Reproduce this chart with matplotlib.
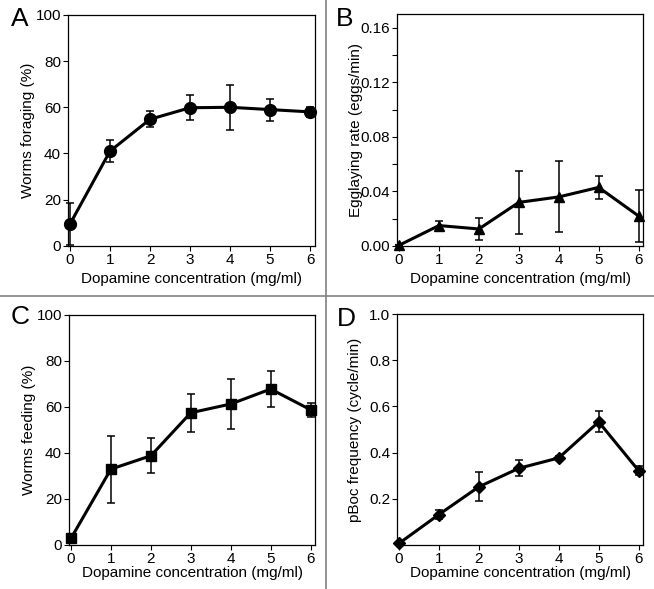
import matplotlib
matplotlib.use("Agg")
import matplotlib.pyplot as plt
from matplotlib.lines import Line2D
from matplotlib.ticker import MultipleLocator

plt.rcParams['font.family'] = ['Liberation Sans', 'DejaVu Sans']

dose = [0, 1, 2, 3, 4, 5, 6]

foraging = [9.4, 41.0, 54.8, 59.8, 60.0, 59.0, 58.0]
foraging_err = [9.3, 4.8, 3.4, 5.4, 9.8, 4.8, 2.3]

egglaying = [0.0005, 0.015, 0.0125, 0.032, 0.036, 0.043, 0.022]
egglaying_err = [0.0, 0.0033, 0.008, 0.023, 0.026, 0.0083, 0.019]

feeding = [2.9, 33.0, 38.8, 57.5, 61.3, 67.8, 58.8]
feeding_err = [0.0, 14.6, 7.7, 8.2, 11.0, 7.7, 3.0]

pboc = [0.007, 0.132, 0.252, 0.332, 0.377, 0.533, 0.322]
pboc_err = [0.0, 0.02, 0.062, 0.035, 0.01, 0.045, 0.018]

W, H = 654, 589
fig = plt.figure(figsize=(W / 100, H / 100), dpi=100)


def rect(l, r, t, b):
    return [l / W, 1 - b / H, (r - l) / W, (b - t) / H]


def panel(box, y, err, marker, ms, ylabel, ylim, yticks, ylabels, xpad, ypad):
    ax = fig.add_axes(rect(*box))
    # lower error bars stop at the axis
    low = [min(e, v) for e, v in zip(err, y)]
    ax.errorbar(dose, y, yerr=[low, err], color='black', lw=2.2,
                marker=marker, ms=ms, elinewidth=1.1, capsize=3.2,
                capthick=1.1, zorder=3, clip_on=False)
    ax.set_xlim(-0.05, 6.11)
    ax.set_ylim(*ylim)
    ax.set_xticks(dose)
    ax.set_yticks(yticks)
    ax.set_yticklabels(ylabels)
    ax.tick_params(direction='out', length=3.5, width=0.8, labelsize=11,
                   pad=1.5)
    for s in ax.spines.values():
        s.set_linewidth(0.9)
    ax.set_ylabel(ylabel, fontsize=11, labelpad=ypad)
    ax.set_xlabel('Dopamine concentration (mg/ml)', fontsize=11,
                  labelpad=xpad)
    return ax


panel((68, 314.5, 15, 245.7), foraging, foraging_err, 'o', 8.5,
      'Worms foraging (%)', (0, 100), [0, 20, 40, 60, 80, 100],
      ['0', '20', '40', '60', '80', '100'], 3.5, 0.5)

axb = panel((397, 643, 14.3, 246), egglaying, egglaying_err, '^', 7.5,
            'Egglaying rate (eggs/min)', (0, 0.17),
            [0, 0.04, 0.08, 0.12, 0.16],
            ['0.00', '0.04', '0.08', '0.12', '0.16'], 3.5, -2)
axb.yaxis.set_minor_locator(MultipleLocator(0.02))
axb.tick_params(which='minor', direction='out', length=3.5, width=0.8)

panel((69, 315, 315, 545), feeding, feeding_err, 's', 7,
      'Worms feeding (%)', (0, 100), [0, 20, 40, 60, 80, 100],
      ['0', '20', '40', '60', '80', '100'], 0, 0.5)

panel((397, 643, 314, 545), pboc, pboc_err, 'D', 6.5,
      'pBoc frequency (cycle/min)', (0, 1.0), [0.2, 0.4, 0.6, 0.8, 1.0],
      ['0.2', '0.4', '0.6', '0.8', '1.0'], 0, 5)

for txt, x, y in [('A', 20, 19.5), ('B', 345, 19.5), ('C', 20, 317.5),
                  ('D', 346, 319)]:
    fig.text(x / W, 1 - y / H, txt, fontsize=19, ha='center', va='center')

fig.add_artist(Line2D([325.5 / W, 325.5 / W], [0, 1], color='#808080',
                      lw=1.2, transform=fig.transFigure))
fig.add_artist(Line2D([0, 1], [1 - 296 / H, 1 - 296 / H], color='#808080',
                      lw=1.2, transform=fig.transFigure))

fig.savefig('out.png', dpi=100, facecolor='white')
